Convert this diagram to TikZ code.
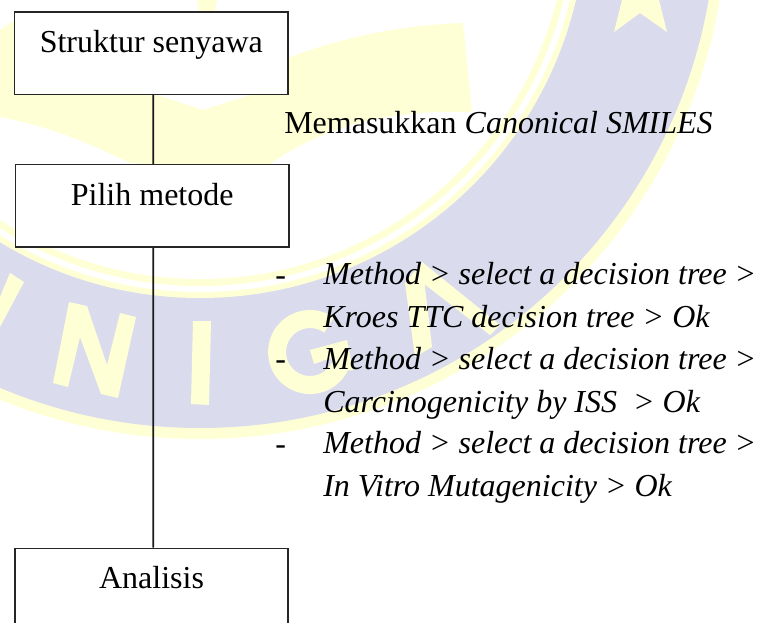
\documentclass[tikz,border=0pt]{standalone}
\usepackage{fontspec}
\setmainfont{Liberation Serif}
\definecolor{wmblue}{RGB}{218,220,238}
\definecolor{wmyellow}{RGB}{255,255,214}
\begin{document}
\begin{tikzpicture}
	[x=.75pt,y=-.75pt,
	box/.style={rectangle,draw=black!85,fill=white,line width=1.1pt,inner sep=0pt,minimum width=205pt,text height=30.4pt,text depth=31.4pt},
	label/.style={anchor=base west,inner sep=0pt,align=left},
	conn/.style={draw=black!90,line width=1.4pt},
	font=\fontsize{24}{31.8}\selectfont]

	\useasboundingbox (0,0) rectangle (762,622);
	\clip (0,0) rectangle (762,622);

	\fill[wmyellow] (200,-88) circle[radius=527];
	\fill[wmblue] (200,-88) circle[radius=516];
	\fill[wmyellow] (200,-88) circle[radius=386];
	\fill[white] (200,-88) circle[radius=380];
	\fill[wmyellow] (200,-88) circle[radius=374];
	\fill[white] (200,-88) circle[radius=367];

	\fill[wmyellow] (0,30) -- (15,20) -- (157,95) -- (203,110) -- (250,95) -- (288,58)
		.. controls (340,38) and (400,25) .. (463,23) -- (472,112)
		.. controls (400,110) and (340,120) .. (280,157) -- (262,170) -- (130,163)
		.. controls (90,143) and (45,125) .. (0,117) -- cycle;
	\fill[wmyellow] (197,0) -- (217,0) -- (213,20) -- (201,20) -- cycle;
	\fill[wmyellow] (622,0) -- (614,32) -- (640,13) -- (667,32) -- (659,0) -- cycle;

	\fill[wmyellow] (10,273) -- (24,282) -- (0,327) -- (0,297) -- cycle;
	\fill[wmyellow] (69,302) -- (87,306) -- (107,365) -- (120,313) -- (136,317) -- (118,398) -- (101,394) -- (80,337) -- (68,387) -- (53,383) -- cycle;
	\fill[wmyellow] (193,321) -- (211,321) -- (209,405) -- (191,404) -- cycle;
	\draw[wmyellow,line width=13.5pt] (329,325) arc[start angle=-55,end angle=-340,radius=33];
	\fill[wmyellow] (310,350) -- (347,340) -- (353,370) -- (335,372) -- (331,358) -- (314,364) -- cycle;
	\fill[wmyellow] (405,283) -- (422,262) -- (432,347) -- (415,357) -- cycle;
	\fill[wmyellow] (422,262) -- (500,325) -- (490,335) -- (423,283) -- cycle;

	\node[box] (struktur) at (151.3,53.2) {Struktur senyawa};
	\node[box] (pilih) at (152.2,205.7) {Pilih metode};
	\node[box] (analisis) at (151.5,589.5) {Analisis};

	\draw[conn] ([xshift=1.5pt]struktur.south) -- ([xshift=.8pt]pilih.north);
	\draw[conn] ([xshift=.8pt]pilih.south) -- ([xshift=1.3pt]analisis.north);

	\node[label] (masuk) at (284,133) {Memasukkan \textit{Canonical SMILES}};

	\node[label] (dash1) at (275,285) {-};
	\node[label] (dash2) at (275,369) {-};
	\node[label] (dash3) at (275,454) {-};
	\node[label] (kroes) at (323,327) {\textit{Method > select a decision tree >}\\\textit{Kroes TTC decision tree > Ok}};
	\node[label] (iss) at (323,412) {\textit{Method > select a decision tree >}\\\textit{Carcinogenicity by ISS \ > Ok}};
	\node[label] (vitro) at (323,496) {\textit{Method > select a decision tree >}\\\textit{In Vitro Mutagenicity > Ok}};
\end{tikzpicture}
\end{document}
